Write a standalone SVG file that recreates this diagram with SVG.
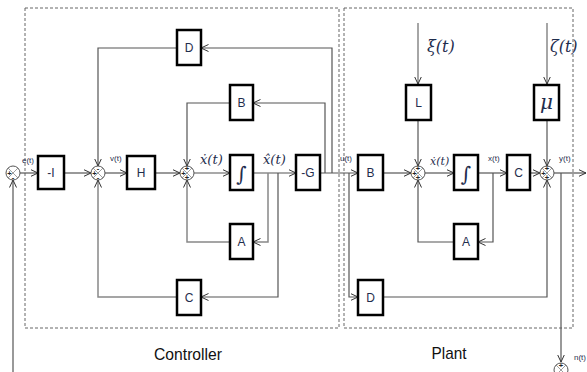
<svg xmlns="http://www.w3.org/2000/svg" width="587" height="372" viewBox="0 0 587 372">
<defs>
<marker id="arr" viewBox="0 0 8 8" refX="7.5" refY="4" markerWidth="8" markerHeight="8" markerUnits="userSpaceOnUse" orient="auto">
<path d="M0,0.5 L7.5,4 L0,7.5" fill="none" stroke="#333" stroke-width="1"/>
</marker>
</defs>
<style>
.box{fill:#fff;stroke:#000;stroke-width:2.5}
.bl{font-family:"Liberation Sans","DejaVu Sans",sans-serif;font-size:12px;fill:#1f2d4d;text-anchor:middle}
.ln{fill:none;stroke:#555;stroke-width:1.2;marker-end:url(#arr)}
.lg{fill:none;stroke:#888;stroke-width:1.5;marker-end:url(#arr)}
.sum{fill:#fff;stroke:#555;stroke-width:1}
.x{stroke:#777;stroke-width:0.7}
.sg{font-family:"Liberation Sans",sans-serif;font-size:7.5px;font-weight:bold;fill:#222;text-anchor:middle}
.sm{font-family:"Liberation Sans",sans-serif;font-size:8px;fill:#1f2d4d}
.mt{font-family:"DejaVu Serif","Liberation Serif",serif;font-style:italic;fill:#1f2d4d}
.dash{fill:none;stroke:#666;stroke-width:1;stroke-dasharray:3,2}
.ttl{font-family:"Liberation Sans","DejaVu Sans",sans-serif;font-size:17px;fill:#111;text-anchor:middle}
</style>
<rect class="dash" x="25" y="8" width="314" height="320"/>
<rect class="dash" x="344" y="8" width="229" height="320"/>
<text class="ttl" x="188" y="360" textLength="68" lengthAdjust="spacingAndGlyphs">Controller</text>
<text class="ttl" x="449" y="359" textLength="35" lengthAdjust="spacingAndGlyphs">Plant</text>
<g id="connectors">
<path class="ln" d="M20,173 L38,173"/>
<path class="ln" d="M13,372 L13,180"/>
<path class="ln" d="M64,173 L91,173"/>
<path class="ln" d="M105,173 L127,173"/>
<path class="ln" d="M155,173 L180,173"/>
<path class="ln" d="M194,173 L230,173"/>
<path class="ln" d="M253,173 L296,173"/>
<path class="lg" d="M268,173 L268,242 L253,242"/>
<path class="lg" d="M230,242 L187,242 L187,180"/>
<path class="ln" d="M278,173 L278,297 L201,297"/>
<path class="lg" d="M177,297 L98,297 L98,180"/>
<path class="ln" d="M320,173 L358,173"/>
<path class="ln" d="M325,173 L325,103 L253,103"/>
<path class="ln" d="M230,103 L187,103 L187,166"/>
<path class="ln" d="M332,173 L332,48 L201,48"/>
<path class="ln" d="M177,48 L98,48 L98,166"/>
<path class="ln" d="M349,173 L349,297 L358,297"/>
<path class="ln" d="M383,297 L547,297 L547,180"/>
<path class="ln" d="M383,173 L411,173"/>
<path class="ln" d="M425,173 L454,173"/>
<path class="ln" d="M478,173 L507,173"/>
<path class="ln" d="M493,173 L493,242 L478,242"/>
<path class="ln" d="M454,242 L418,242 L418,180"/>
<path class="lg" d="M418,23 L418,84"/>
<path class="ln" d="M418,120 L418,166"/>
<path class="lg" d="M547,23 L547,84"/>
<path class="ln" d="M547,120 L547,166"/>
<path class="ln" d="M530,173 L540,173"/>
<path class="ln" d="M554,173 L586,173"/>
<path class="ln" d="M561,173 L561,362"/>
</g>
<g id="sum1"><circle class="sum" cx="13" cy="173" r="7"/><path class="x" d="M8,168 L18,178 M18,168 L8,178"/><text class="sg" x="9.5" y="175.5">+</text><text class="sg" x="13" y="179.5">-</text></g>
<g id="sum2"><circle class="sum" cx="98" cy="173" r="7"/><path class="x" d="M93,168 L103,178 M103,168 L93,178"/><text class="sg" x="98" y="171">-</text><text class="sg" x="94.5" y="175.5">+</text><text class="sg" x="98" y="179.5">-</text></g>
<g id="sum3"><circle class="sum" cx="187" cy="173" r="7"/><path class="x" d="M182,168 L192,178 M192,168 L182,178"/><text class="sg" x="187" y="171">+</text><text class="sg" x="183.5" y="175.5">+</text><text class="sg" x="187" y="179.5">+</text></g>
<g id="sum4"><circle class="sum" cx="418" cy="173" r="7"/><path class="x" d="M413,168 L423,178 M423,168 L413,178"/><text class="sg" x="418" y="171">+</text><text class="sg" x="414.5" y="175.5">+</text><text class="sg" x="418" y="179.5">+</text></g>
<g id="sum5"><circle class="sum" cx="547" cy="173" r="7"/><path class="x" d="M542,168 L552,178 M552,168 L542,178"/><text class="sg" x="547" y="171">+</text><text class="sg" x="543.5" y="175.5">+</text><text class="sg" x="547" y="179.5">+</text></g>
<g id="sum6"><circle class="sum" cx="561" cy="370" r="7"/><path class="x" d="M556,365 L566,375 M566,365 L556,375"/><text class="sg" x="561" y="368">+</text></g>
<g id="negI"><rect class="box" x="38" y="156" width="26" height="33"/><text class="bl" x="51" y="177">-I</text></g>
<g id="H"><rect class="box" x="127" y="156" width="28" height="33"/><text class="bl" x="141" y="177">H</text></g>
<g id="intC"><rect class="box" x="230" y="155" width="23" height="35"/><text class="mt" x="241.5" y="181" font-size="20" text-anchor="middle">∫</text></g>
<g id="negG"><rect class="box" x="296" y="155" width="24" height="35"/><text class="bl" x="308" y="177">-G</text></g>
<g id="Bc"><rect class="box" x="230" y="85" width="23" height="35"/><text class="bl" x="241.5" y="107">B</text></g>
<g id="Dc"><rect class="box" x="177" y="30" width="24" height="35"/><text class="bl" x="189" y="52">D</text></g>
<g id="Ac"><rect class="box" x="230" y="224" width="23" height="35"/><text class="bl" x="241.5" y="246">A</text></g>
<g id="Cc"><rect class="box" x="177" y="280" width="24" height="35"/><text class="bl" x="189" y="302">C</text></g>
<g id="Bp"><rect class="box" x="358" y="155" width="25" height="35"/><text class="bl" x="370.5" y="177">B</text></g>
<g id="intP"><rect class="box" x="454" y="155" width="24" height="35"/><text class="mt" x="466" y="181" font-size="20" text-anchor="middle">∫</text></g>
<g id="Cp"><rect class="box" x="507" y="155" width="23" height="35"/><text class="bl" x="518.5" y="177">C</text></g>
<g id="Ap"><rect class="box" x="454" y="224" width="24" height="35"/><text class="bl" x="466" y="246">A</text></g>
<g id="Dp"><rect class="box" x="358" y="280" width="25" height="35"/><text class="bl" x="370.5" y="302">D</text></g>
<g id="L"><rect class="box" x="406" y="85" width="25" height="35"/><text class="bl" x="418.5" y="107" font-size="11">L</text></g>
<g id="mu"><rect class="box" x="534" y="85" width="25" height="35"/><text class="mt" x="546.5" y="109" font-size="20" text-anchor="middle">μ</text></g>
<g id="labels">
<text class="sm" x="22" y="163">e(t)</text>
<text class="sm" x="110" y="161">v(t)</text>
<text class="sm" x="340" y="161">u(t)</text>
<text class="sm" x="488" y="161">x(t)</text>
<text class="sm" x="559" y="161">y(t)</text>
<text class="sm" x="574" y="360" font-size="7">n(t)</text>
<text class="mt" x="200" y="164" font-size="13">ẋ(t)</text>
<text class="mt" x="263" y="164" font-size="13">x̂(t)</text>
<text class="mt" x="430" y="165" font-size="11">ẋ(t)</text>
<text class="mt" x="427" y="52" font-size="16">ξ(t)</text>
<text class="mt" x="550" y="52" font-size="16">ζ(t)</text>
</g>
</svg>
